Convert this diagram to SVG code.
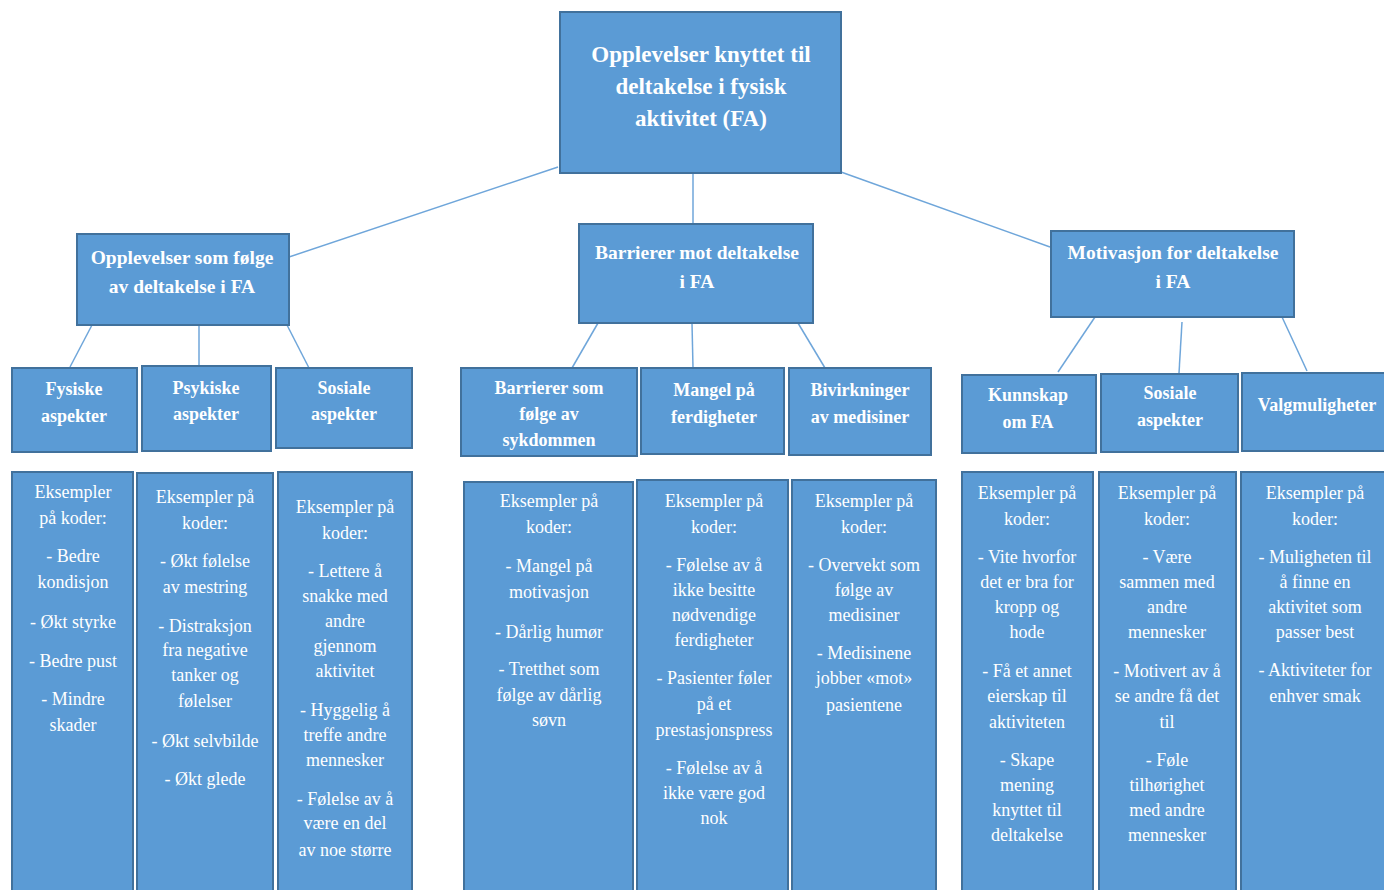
<svg xmlns="http://www.w3.org/2000/svg" width="1384" height="890" viewBox="0 0 1384 890">
<style>
.box{fill:#5B9BD5;stroke:#41719C;stroke-width:2}
.conn{stroke:#6FA6DA;stroke-width:1.5;fill:none}
.t0{font-family:"Liberation Serif",serif;font-weight:bold;font-size:23px;fill:#fff;text-anchor:middle}
.t1{font-family:"Liberation Serif",serif;font-weight:bold;font-size:19.5px;fill:#fff;text-anchor:middle}
.t2{font-family:"Liberation Serif",serif;font-weight:bold;font-size:18px;fill:#fff;text-anchor:middle}
.t3{font-family:"Liberation Serif",serif;font-size:18px;fill:#fff;text-anchor:middle}
</style>
<rect width="1384" height="890" fill="#fff"/>
<g id="connectors">
<line class="conn" x1="558" y1="167" x2="289" y2="257"/>
<line class="conn" x1="693" y1="173" x2="693" y2="224"/>
<line class="conn" x1="841" y1="172" x2="1050" y2="247"/>
<line class="conn" x1="92" y1="325" x2="70" y2="367"/>
<line class="conn" x1="199" y1="325" x2="199" y2="366"/>
<line class="conn" x1="287" y1="325" x2="309" y2="368"/>
<line class="conn" x1="598" y1="323" x2="572" y2="368"/>
<line class="conn" x1="692" y1="323" x2="693" y2="368"/>
<line class="conn" x1="798" y1="323" x2="825" y2="368"/>
<line class="conn" x1="1095" y1="317" x2="1058" y2="372"/>
<line class="conn" x1="1182" y1="322" x2="1179" y2="373"/>
<polyline class="conn" points="1282,317 1295,345 1307,371"/>
</g>
<g id="root">
<rect class="box" x="560" y="12" width="281" height="161"/>
<text class="t0" x="701" y="62">Opplevelser knyttet til</text>
<text class="t0" x="701" y="94">deltakelse i fysisk</text>
<text class="t0" x="701" y="126">aktivitet (FA)</text>
</g>
<g id="opplevelser">
<rect class="box" x="77" y="234" width="212" height="91"/>
<text class="t1" x="182" y="264">Opplevelser som følge</text>
<text class="t1" x="182" y="293">av deltakelse i FA</text>
</g>
<g id="barrierer">
<rect class="box" x="579" y="224" width="234" height="99"/>
<text class="t1" x="697" y="259">Barrierer mot deltakelse</text>
<text class="t1" x="697" y="288">i FA</text>
</g>
<g id="motivasjon">
<rect class="box" x="1051" y="231" width="243" height="86"/>
<text class="t1" x="1173" y="259">Motivasjon for deltakelse</text>
<text class="t1" x="1173" y="288">i FA</text>
</g>
<g id="fysiske">
<rect class="box" x="12" y="368" width="125" height="84"/>
<text class="t2" x="74" y="395">Fysiske</text>
<text class="t2" x="74" y="422">aspekter</text>
</g>
<g id="psykiske">
<rect class="box" x="142" y="366" width="129" height="85"/>
<text class="t2" x="206" y="394">Psykiske</text>
<text class="t2" x="206" y="420">aspekter</text>
</g>
<g id="sosiale1">
<rect class="box" x="276" y="368" width="136" height="80"/>
<text class="t2" x="344" y="394">Sosiale</text>
<text class="t2" x="344" y="420">aspekter</text>
</g>
<g id="sykdommen">
<rect class="box" x="461" y="368" width="176" height="88"/>
<text class="t2" x="549" y="394">Barrierer som</text>
<text class="t2" x="549" y="420">følge av</text>
<text class="t2" x="549" y="446">sykdommen</text>
</g>
<g id="ferdigheter">
<rect class="box" x="641" y="368" width="143" height="86"/>
<text class="t2" x="714" y="396">Mangel på</text>
<text class="t2" x="714" y="423">ferdigheter</text>
</g>
<g id="bivirkninger">
<rect class="box" x="789" y="368" width="142" height="87"/>
<text class="t2" x="860" y="396">Bivirkninger</text>
<text class="t2" x="860" y="423">av medisiner</text>
</g>
<g id="kunnskap">
<rect class="box" x="962" y="375" width="134" height="78"/>
<text class="t2" x="1028" y="401">Kunnskap</text>
<text class="t2" x="1028" y="428">om FA</text>
</g>
<g id="sosiale2">
<rect class="box" x="1101" y="374" width="137" height="78"/>
<text class="t2" x="1170" y="399">Sosiale</text>
<text class="t2" x="1170" y="426">aspekter</text>
</g>
<g id="valgmuligheter">
<rect class="box" x="1242" y="373" width="150" height="78"/>
<text class="t2" x="1317" y="411">Valgmuligheter</text>
</g>
<g id="col1">
<rect class="box" x="12" y="472" width="121" height="425"/>
<text class="t3" x="73" y="498">Eksempler</text>
<text class="t3" x="73" y="524">på koder:</text>
<text class="t3" x="73" y="562">- Bedre</text>
<text class="t3" x="73" y="588">kondisjon</text>
<text class="t3" x="73" y="628">- Økt styrke</text>
<text class="t3" x="73" y="667">- Bedre pust</text>
<text class="t3" x="73" y="705">- Mindre</text>
<text class="t3" x="73" y="731">skader</text>
</g>
<g id="col2">
<rect class="box" x="137" y="473" width="136" height="425"/>
<text class="t3" x="205" y="503">Eksempler på</text>
<text class="t3" x="205" y="529">koder:</text>
<text class="t3" x="205" y="567">- Økt følelse</text>
<text class="t3" x="205" y="593">av mestring</text>
<text class="t3" x="205" y="632">- Distraksjon</text>
<text class="t3" x="205" y="656">fra negative</text>
<text class="t3" x="205" y="681">tanker og</text>
<text class="t3" x="205" y="707">følelser</text>
<text class="t3" x="205" y="747">- Økt selvbilde</text>
<text class="t3" x="205" y="785">- Økt glede</text>
</g>
<g id="col3">
<rect class="box" x="278" y="472" width="134" height="425"/>
<text class="t3" x="345" y="513">Eksempler på</text>
<text class="t3" x="345" y="539">koder:</text>
<text class="t3" x="345" y="577">- Lettere å</text>
<text class="t3" x="345" y="602">snakke med</text>
<text class="t3" x="345" y="627">andre</text>
<text class="t3" x="345" y="652">gjennom</text>
<text class="t3" x="345" y="677">aktivitet</text>
<text class="t3" x="345" y="716">- Hyggelig å</text>
<text class="t3" x="345" y="741">treffe andre</text>
<text class="t3" x="345" y="766">mennesker</text>
<text class="t3" x="345" y="805">- Følelse av å</text>
<text class="t3" x="345" y="829">være en del</text>
<text class="t3" x="345" y="856">av noe større</text>
</g>
<g id="col4">
<rect class="box" x="464" y="482" width="169" height="415"/>
<text class="t3" x="549" y="507">Eksempler på</text>
<text class="t3" x="549" y="533">koder:</text>
<text class="t3" x="549" y="572">- Mangel på</text>
<text class="t3" x="549" y="598">motivasjon</text>
<text class="t3" x="549" y="638">- Dårlig humør</text>
<text class="t3" x="549" y="675">- Tretthet som</text>
<text class="t3" x="549" y="701">følge av dårlig</text>
<text class="t3" x="549" y="726">søvn</text>
</g>
<g id="col5">
<rect class="box" x="637" y="480" width="151" height="417"/>
<text class="t3" x="714" y="507">Eksempler på</text>
<text class="t3" x="714" y="533">koder:</text>
<text class="t3" x="714" y="571">- Følelse av å</text>
<text class="t3" x="714" y="596">ikke besitte</text>
<text class="t3" x="714" y="621">nødvendige</text>
<text class="t3" x="714" y="646">ferdigheter</text>
<text class="t3" x="714" y="684">- Pasienter føler</text>
<text class="t3" x="714" y="710">på et</text>
<text class="t3" x="714" y="736">prestasjonspress</text>
<text class="t3" x="714" y="774">- Følelse av å</text>
<text class="t3" x="714" y="799">ikke være god</text>
<text class="t3" x="714" y="824">nok</text>
</g>
<g id="col6">
<rect class="box" x="792" y="480" width="144" height="417"/>
<text class="t3" x="864" y="507">Eksempler på</text>
<text class="t3" x="864" y="533">koder:</text>
<text class="t3" x="864" y="571">- Overvekt som</text>
<text class="t3" x="864" y="596">følge av</text>
<text class="t3" x="864" y="621">medisiner</text>
<text class="t3" x="864" y="659">- Medisinene</text>
<text class="t3" x="864" y="684">jobber «mot»</text>
<text class="t3" x="864" y="711">pasientene</text>
</g>
<g id="col7">
<rect class="box" x="962" y="472" width="131" height="425"/>
<text class="t3" x="1027" y="499">Eksempler på</text>
<text class="t3" x="1027" y="525">koder:</text>
<text class="t3" x="1027" y="563">- Vite hvorfor</text>
<text class="t3" x="1027" y="588">det er bra for</text>
<text class="t3" x="1027" y="613">kropp og</text>
<text class="t3" x="1027" y="638">hode</text>
<text class="t3" x="1027" y="677">- Få et annet</text>
<text class="t3" x="1027" y="702">eierskap til</text>
<text class="t3" x="1027" y="728">aktiviteten</text>
<text class="t3" x="1027" y="766">- Skape</text>
<text class="t3" x="1027" y="791">mening</text>
<text class="t3" x="1027" y="816">knyttet til</text>
<text class="t3" x="1027" y="841">deltakelse</text>
</g>
<g id="col8">
<rect class="box" x="1099" y="472" width="137" height="425"/>
<text class="t3" x="1167" y="499">Eksempler på</text>
<text class="t3" x="1167" y="525">koder:</text>
<text class="t3" x="1167" y="563">- Være</text>
<text class="t3" x="1167" y="588">sammen med</text>
<text class="t3" x="1167" y="613">andre</text>
<text class="t3" x="1167" y="638">mennesker</text>
<text class="t3" x="1167" y="677">- Motivert av å</text>
<text class="t3" x="1167" y="702">se andre få det</text>
<text class="t3" x="1167" y="728">til</text>
<text class="t3" x="1167" y="766">- Føle</text>
<text class="t3" x="1167" y="791">tilhørighet</text>
<text class="t3" x="1167" y="816">med andre</text>
<text class="t3" x="1167" y="841">mennesker</text>
</g>
<g id="col9">
<rect class="box" x="1241" y="472" width="150" height="425"/>
<text class="t3" x="1315" y="499">Eksempler på</text>
<text class="t3" x="1315" y="525">koder:</text>
<text class="t3" x="1315" y="563">- Muligheten til</text>
<text class="t3" x="1315" y="588">å finne en</text>
<text class="t3" x="1315" y="613">aktivitet som</text>
<text class="t3" x="1315" y="638">passer best</text>
<text class="t3" x="1315" y="676">- Aktiviteter for</text>
<text class="t3" x="1315" y="702">enhver smak</text>
</g>
</svg>
